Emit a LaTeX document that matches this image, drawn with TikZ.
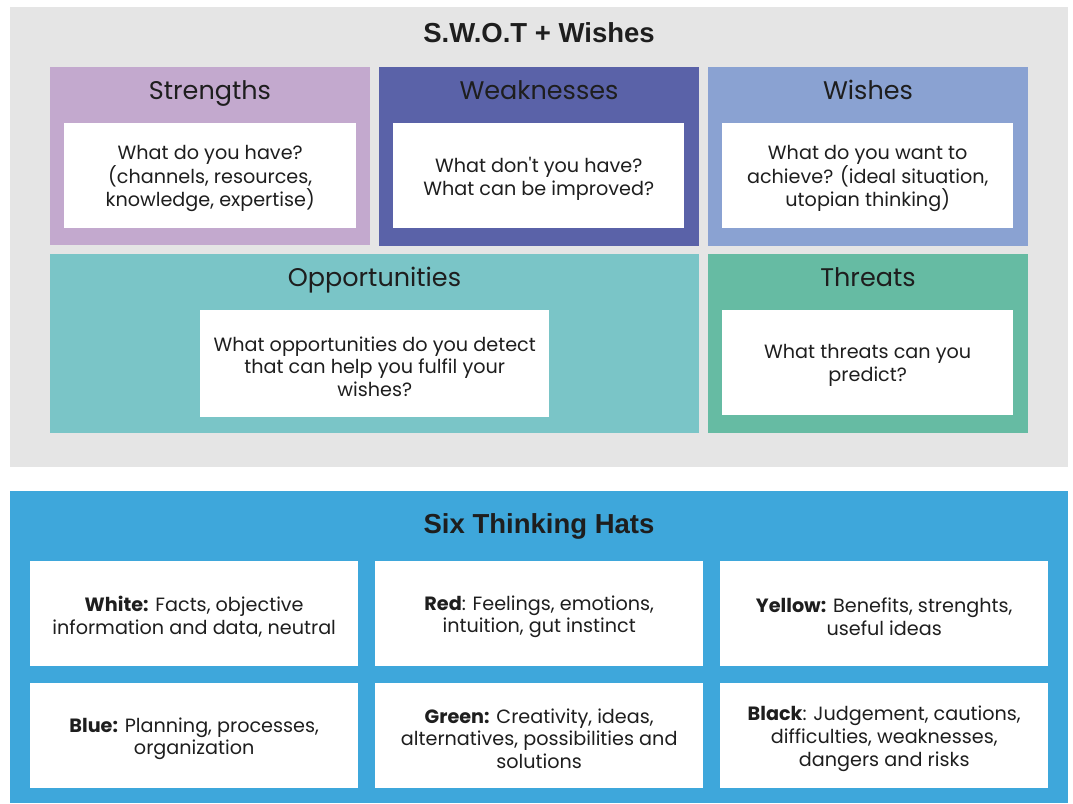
\documentclass[tikz,border=0pt]{standalone}
\usepackage{fontspec}
\setmainfont{Poppins}
\newfontfamily\headfont{Liberation Sans}
\begin{document}
\begin{tikzpicture}[x=1pt,y=-1pt,
  panel/.style={fill=#1,draw=none,anchor=north west,inner sep=0pt},
  card/.style={fill=white,draw=none,anchor=north west,inner sep=0pt},
  body/.style={text=txt,align=center,yshift=-3pt,font=\fontsize{19.2}{22.8}\selectfont},
  head/.style={text=txt,anchor=base,font=\fontsize{25.5}{28}\selectfont},
  title/.style={text=txt,anchor=base,font=\headfont\bfseries\fontsize{27.5}{30}\selectfont}]
\definecolor{txt}{HTML}{1E1E1E}
\definecolor{bggray}{HTML}{E5E5E5}
\definecolor{cstr}{HTML}{C3A9CE}
\definecolor{cweak}{HTML}{5A62A8}
\definecolor{cwish}{HTML}{8AA2D2}
\definecolor{copp}{HTML}{7AC5C7}
\definecolor{cthr}{HTML}{66BBA3}
\definecolor{chats}{HTML}{3EA7DB}
\useasboundingbox (0,0) rectangle (1073,803);
\fill[white] (0,0) rectangle (1073,803);

% --- S.W.O.T + Wishes panel ---
\node[panel=bggray,minimum width=1058pt,minimum height=460pt] (swot) at (10,7) {};
\node[title] (swottitle) at (539,42.5) {S.W.O.T + Wishes};

\node[panel=cstr,minimum width=320pt,minimum height=178pt] (str) at (50,67) {};
\node[panel=cweak,minimum width=320pt,minimum height=179pt] (weak) at (379,67) {};
\node[panel=cwish,minimum width=320pt,minimum height=179pt] (wish) at (708,67) {};
\node[panel=copp,minimum width=649pt,minimum height=179pt] (opp) at (50,254) {};
\node[panel=cthr,minimum width=320pt,minimum height=179pt] (thr) at (708,254) {};

\node[head] (strh) at (210,99) {Strengths};
\node[head] (weakh) at (539,99) {Weaknesses};
\node[head] (wishh) at (868,99) {Wishes};
\node[head] (opph) at (374.5,286) {Opportunities};
\node[head] (thrh) at (868,286) {Threats};

\node[card,minimum width=292pt,minimum height=105pt] (strc) at (64,123) {};
\node[card,minimum width=291pt,minimum height=105pt] (weakc) at (393,123) {};
\node[card,minimum width=291pt,minimum height=105pt] (wishc) at (722,123) {};
\node[card,minimum width=349pt,minimum height=107pt] (oppc) at (200,310) {};
\node[card,minimum width=291pt,minimum height=105pt] (thrc) at (722,310) {};

\node[body] (strt) at (strc.center) {What do you have?\\(channels, resources,\\knowledge, expertise)};
\node[body] (weakt) at (weakc.center) {What don\textquotesingle t you have?\\What can be improved?};
\node[body] (wisht) at (wishc.center) {What do you want to\\achieve? (ideal situation,\\utopian thinking)};
\node[body] (oppt) at (oppc.center) {What opportunities do you detect\\that can help you fulfil your\\wishes?};
\node[body] (thrt) at (thrc.center) {What threats can you\\predict?};

% --- Six Thinking Hats panel ---
\node[panel=chats,minimum width=1058pt,minimum height=312pt] (hats) at (10,491) {};
\node[title] (hatstitle) at (539,533) {Six Thinking Hats};

\node[card,minimum width=328pt,minimum height=105pt] (white) at (30,561) {};
\node[card,minimum width=328pt,minimum height=105pt] (red) at (375,561) {};
\node[card,minimum width=328pt,minimum height=105pt] (yellow) at (720,561) {};
\node[card,minimum width=328pt,minimum height=105pt] (blue) at (30,683) {};
\node[card,minimum width=328pt,minimum height=105pt] (green) at (375,683) {};
\node[card,minimum width=328pt,minimum height=105pt] (black) at (720,683) {};

\node[body] (whitet) at (white.center) {\textbf{White:} Facts, objective\\information and data, neutral};
\node[body] (redt) at (red.center) {\textbf{Red}: Feelings, emotions,\\intuition, gut instinct};
\node[body] (yellowt) at (yellow.center) {\textbf{Yellow:} Benefits, strenghts,\\useful ideas};
\node[body] (bluet) at (blue.center) {\textbf{Blue:} Planning, processes,\\organization};
\node[body] (greent) at (green.center) {\textbf{Green:} Creativity, ideas,\\alternatives, possibilities and\\solutions};
\node[body] (blackt) at (black.center) {\textbf{Black}: Judgement, cautions,\\difficulties, weaknesses,\\dangers and risks};
\end{tikzpicture}
\end{document}
